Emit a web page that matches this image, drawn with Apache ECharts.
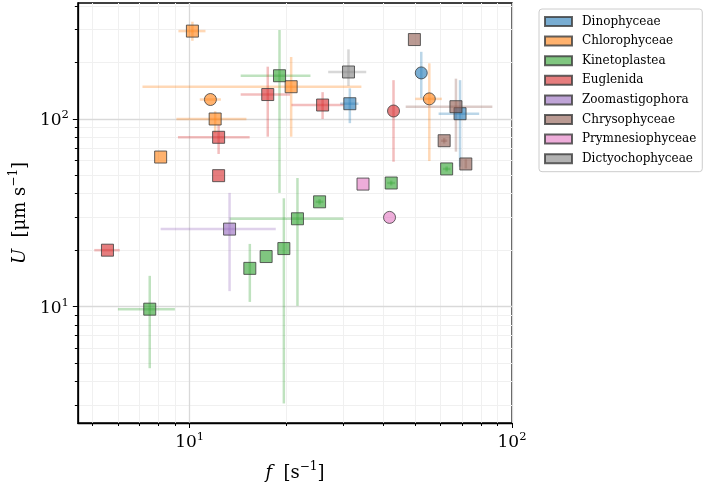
<!DOCTYPE html>
<html>
<head>
<meta charset="utf-8">
<script src="https://cdn.jsdelivr.net/npm/echarts@6/dist/echarts.min.js"></script>
<style>
  html, body { margin: 0; padding: 0; background: #fff; }
  #chart { width: 704px; height: 491px; }
</style>
</head>
<body>
<div id="chart"></div>
<script>
// each row: [f, U, fLow, fHigh, ULow, UHigh]   (null = no error bar)
var categories = ['Dinophyceae', 'Chlorophyceae', 'Kinetoplastea', 'Euglenida',
                  'Zoomastigophora', 'Chrysophyceae', 'Prymnesiophyceae', 'Dictyochophyceae'];
var colors = ['31,119,180', '255,127,14', '44,160,44', '214,39,40',
              '148,103,189', '140,86,75', '227,119,194', '127,127,127'];

var dinophyceaeSq = [
  [31.4, 120.6, 29.3, 33.4, 95, 145.6],
  [69.0, 106.7, 59.2, 79.1, 55.7, 161]
];
var dinophyceaeCi = [
  [52.3, 176, null, null, 129, 228]
];
var chlorophyceaeSq = [
  [10.2, 294, 9.23, 11.2, 261, 330],
  [12.0, 100, 9.1, 15.0, 84, 110],
  [8.13, 62.7, null, null, null, null],
  [20.65, 148.6, 7.14, 34.1, 80.5, 214]
];
var chlorophyceaeCi = [
  [11.6, 127, 10.75, 12.5, null, null],
  [55.4, 128, 50.1, 60.6, 59.7, 198]
];
var kinetoplasteaSq = [
  [19.0, 170, 14.4, 23.7, 40.4, 298],
  [21.6, 29.4, 13.3, 30.0, 10.1, 48.5],
  [19.6, 20.4, null, null, 3.05, 37.8],
  [17.27, 18.5, null, null, null, null],
  [15.37, 16.0, null, null, 10.6, 21.6],
  [7.52, 9.7, 5.99, 9.0, 4.7, 14.6],
  [25.3, 36.2, 24.6, 26.0, 35.0, 37.4],
  [42.2, 45.6, 41.0, 43.4, 44.2, 47.0],
  [62.7, 54.2, 61.0, 64.4, 52.5, 55.9]
];
var euglenidaSq = [
  [17.47, 135, 14.4, 20.5, 80.5, 190],
  [12.3, 79.9, 9.2, 15.35, 65.1, 93],
  [12.3, 49.9, null, null, null, null],
  [25.85, 118.7, 20.7, 30.0, 100, 139],
  [5.56, 20.0, 5.06, 6.07, null, null]
];
var euglenidaCi = [
  [42.9, 110.3, null, null, 59.2, 161]
];
var zoomastigophoraSq = [
  [13.3, 25.9, 8.13, 18.5, 12.1, 40.4]
];
var chrysophyceaeSq = [
  [49.8, 265, null, null, null, null],
  [67.0, 116.3, 46.8, 86.9, 67, 164],
  [61.6, 76.6, 60.2, 63.0, 74.0, 79.2],
  [71.9, 57.6, null, null, 54.5, 61.0]
];
var prymnesiophyceaeSq = [
  [34.5, 45.0, null, null, null, null]
];
var prymnesiophyceaeCi = [
  [41.7, 29.9, null, null, null, null]
];
var dictyochophyceaeSq = [
  [31.1, 178, 26.9, 35.3, 150, 235]
];

var squares = [dinophyceaeSq, chlorophyceaeSq, kinetoplasteaSq, euglenidaSq,
               zoomastigophoraSq, chrysophyceaeSq, prymnesiophyceaeSq, dictyochophyceaeSq];
var circles = [dinophyceaeCi, chlorophyceaeCi, [], euglenidaCi, [], [], prymnesiophyceaeCi, []];

var majorX = [10, 100];
var minorX = [5, 6, 7, 8, 9, 20, 30, 40, 50, 60, 70, 80, 90];
var majorY = [10, 100];
var minorY = [3, 4, 5, 6, 7, 8, 9, 20, 30, 40, 50, 60, 70, 80, 90, 200, 300, 400];

var serif = 'DejaVu Serif';

function powLabel(v) {
  var e = Math.round(Math.log10(v));
  return '{b|10}{sup|' + e + '}';
}
var labelRich = {
  b: { fontFamily: serif, fontSize: 17, color: '#000', verticalAlign: 'bottom' },
  sup: { fontFamily: serif, fontSize: 11.5, color: '#000', verticalAlign: 'bottom', padding: [0, 0, 8, 0] }
};
var nameRich = {
  it: { fontFamily: serif, fontSize: 18, fontStyle: 'italic', color: '#000', verticalAlign: 'bottom' },
  n: { fontFamily: serif, fontSize: 18, color: '#000', verticalAlign: 'bottom' },
  sup: { fontFamily: serif, fontSize: 12, color: '#000', verticalAlign: 'bottom', padding: [0, 0, 9, 0] }
};

function errorBars(rows, rgb) {
  return function (params, api) {
    var r = rows[params.dataIndex];
    var kids = [];
    var style = { stroke: 'rgba(' + rgb + ',0.3)', lineWidth: 2.5 };
    if (r[2] != null) {
      var a = api.coord([r[2], r[1]]), b = api.coord([r[3], r[1]]);
      kids.push({ type: 'line', shape: { x1: a[0], y1: a[1], x2: b[0], y2: b[1] }, style: style });
    }
    if (r[4] != null) {
      var c = api.coord([r[0], r[4]]), d = api.coord([r[0], r[5]]);
      kids.push({ type: 'line', shape: { x1: c[0], y1: c[1], x2: d[0], y2: d[1] }, style: style });
    }
    return { type: 'group', children: kids };
  };
}

var series = [];
categories.forEach(function (name, i) {
  var rows = squares[i].concat(circles[i]);
  series.push({
    name: name + ' err', type: 'custom', xAxisIndex: 1, yAxisIndex: 1, z: 1,
    renderItem: errorBars(rows, colors[i]),
    data: rows.map(function (r) { return [r[0], r[1]]; }),
    silent: true
  });
});
categories.forEach(function (name, i) {
  var st = { color: 'rgba(' + colors[i] + ',0.75)', borderColor: '#3c3c3c', borderWidth: 1 };
  series.push({
    name: name, type: 'scatter', xAxisIndex: 1, yAxisIndex: 1, z: 3,
    symbol: 'rect', symbolSize: 12, itemStyle: st,
    data: squares[i].map(function (r) { return [r[0], r[1]]; })
  });
  if (circles[i].length) {
    series.push({
      name: name, type: 'scatter', xAxisIndex: 1, yAxisIndex: 1, z: 3,
      symbol: 'circle', symbolSize: 12, itemStyle: st,
      data: circles[i].map(function (r) { return [r[0], r[1]]; })
    });
  }
});

var chart = echarts.init(document.getElementById('chart'));
chart.setOption({
  animation: false,
  backgroundColor: '#fff',
  grid: { left: 77, right: 192, top: 3, bottom: 68, show: true, borderColor: '#000', borderWidth: 1.3, backgroundColor: 'transparent' },
  legend: {
    orient: 'vertical', left: 539, top: 9,
    data: categories.map(function (c) { return { name: c, icon: 'rect' }; }),
    itemWidth: 27, itemHeight: 9, itemGap: 7.6,
    padding: [6.5, 6, 7, 5],
    borderColor: '#cccccc', borderWidth: 1, borderRadius: 3, backgroundColor: '#fff',
    textStyle: { fontFamily: serif, fontSize: 12, color: '#000', padding: [0, 0, 0, 5] }
  },
  xAxis: [
    {
      type: 'log', logBase: 10, min: 4.5, max: 100, position: 'bottom', z: 0,
      axisLine: { show: false },
      axisTick: { show: true, length: 3, customValues: minorX, lineStyle: { color: '#000', width: 1 } },
      axisLabel: { show: false },
      splitLine: { show: true, lineStyle: { color: '#f0f0f0', width: 1 } }
    },
    {
      type: 'log', logBase: 10, min: 4.5, max: 100, position: 'bottom', z: 1,
      axisLine: { show: true, onZero: false, lineStyle: { color: '#000', width: 1.3 } },
      axisTick: { show: true, length: 5, customValues: majorX, lineStyle: { color: '#000', width: 1 } },
      axisLabel: { customValues: majorX, formatter: powLabel, rich: labelRich, margin: 8 },
      splitLine: { show: true, lineStyle: { color: '#d9d9d9', width: 1.3 } },
      name: '{it|f}{n|  [s}{sup|\u22121}{n|]}', nameLocation: 'middle', nameGap: 38,
      nameTextStyle: { rich: nameRich }
    }
  ],
  yAxis: [
    {
      type: 'log', logBase: 10, min: 2.4, max: 415, position: 'left', z: 0,
      axisLine: { show: false },
      axisTick: { show: true, length: 3, customValues: minorY, lineStyle: { color: '#000', width: 1 } },
      axisLabel: { show: false },
      splitLine: { show: true, lineStyle: { color: '#f0f0f0', width: 1 } }
    },
    {
      type: 'log', logBase: 10, min: 2.4, max: 415, position: 'left', z: 1,
      axisLine: { show: true, onZero: false, lineStyle: { color: '#000', width: 1.3 } },
      axisTick: { show: true, length: 5, customValues: majorY, lineStyle: { color: '#000', width: 1 } },
      axisLabel: { customValues: majorY, formatter: powLabel, rich: labelRich, margin: 9 },
      splitLine: { show: true, lineStyle: { color: '#d9d9d9', width: 1.3 } },
      name: '{it|U}{n|  [\u03bcm s}{sup|\u22121}{n|]}', nameLocation: 'middle', nameGap: 46,
      nameTextStyle: { rich: nameRich }
    }
  ],
  series: series
});
</script>
</body>
</html>
